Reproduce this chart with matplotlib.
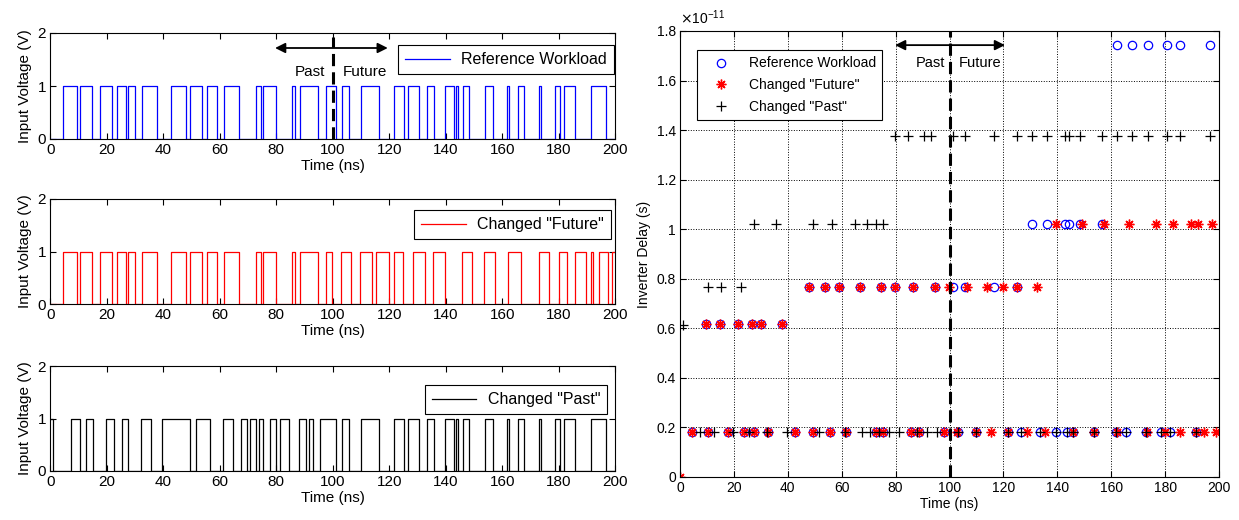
import numpy as np
import matplotlib.pyplot as plt
from matplotlib.ticker import FuncFormatter

plt.rcParams['font.family'] = ['Liberation Sans', 'DejaVu Sans']
plt.rcParams['font.size'] = 11

# Tempos das transições (ns). Antes de 100 ns "Future" = referência,
# depois de 100 ns "Past" = referência.
ref_antes = [4.4, 9.6, 10.4, 14.8, 17.8, 21.7, 23.6, 26.8, 27.6, 29.9, 32.6, 37.8,
             42.8, 48.0, 49.5, 53.8, 55.6, 58.9, 61.6, 66.7, 72.7, 74.5, 75.2, 79.8,
             85.6, 86.6, 88.5, 94.7, 97.8]
ref_depois = [101.3, 103.3, 105.7, 110.0, 116.4, 121.7, 125.2, 126.6, 130.6, 133.4,
              136.0, 139.6, 142.8, 143.6, 144.4, 146.0, 148.3, 153.8, 156.7, 161.6,
              162.3, 165.6, 167.7, 172.9, 173.6, 178.6, 180.6, 181.8, 185.7, 191.3,
              196.8]
fut_depois = [99.7, 102.9, 106.5, 109.7, 113.8, 115.5, 119.8, 121.7, 124.9, 128.6,
              132.5, 135.6, 139.6, 145.7, 149.2, 153.7, 157.4, 162.0, 166.6, 173.2,
              176.7, 180.0, 182.8, 185.6, 189.6, 191.4, 192.3, 194.3, 197.5, 199.0]
past_antes = [1.0, 7.5, 10.4, 12.7, 15.2, 19.8, 22.5, 25.5, 27.4, 32.3, 35.6, 39.6,
              49.5, 51.7, 56.5, 61.2, 64.8, 67.4, 69.5, 70.6, 72.7, 73.8, 75.3, 77.7,
              79.8, 81.2, 84.5, 87.9, 90.6, 91.6, 93.2, 95.5]

# Atraso do inversor em cada transição (x 1e-11 s)
ref_antes_d = [0.183, 0.617, 0.183, 0.617, 0.183, 0.617, 0.183, 0.617, 0.183, 0.617,
               0.183, 0.617, 0.183, 0.765, 0.183, 0.765, 0.183, 0.765, 0.183, 0.765,
               0.183, 0.765, 0.183, 0.765, 0.183, 0.765, 0.183, 0.765, 0.183]
ref_depois_d = [0.765, 0.183, 0.765, 0.183, 0.765, 0.183, 0.765, 0.183, 1.022, 0.183,
                1.022, 0.183, 1.022, 0.183, 1.022, 0.183, 1.022, 0.183, 1.022, 0.183,
                1.742, 0.183, 1.742, 0.183, 1.742, 0.183, 1.742, 0.183, 1.742, 0.183,
                1.742]
fut_depois_d = [0.765, 0.183, 0.765, 0.183, 0.765, 0.183, 0.765, 0.183, 0.765, 0.183,
                0.765, 0.183, 1.022, 0.183, 1.022, 0.183, 1.022, 0.183, 1.022, 0.183,
                1.022, 0.183, 1.022, 0.183, 1.022, 0.183, 1.022, 0.183, 1.022, 0.183]
past_antes_d = [0.612, 0.183, 0.765, 0.183, 0.765, 0.183, 0.765, 0.183, 1.022, 0.183,
                1.022, 0.183, 1.022, 0.183, 1.022, 0.183, 1.022, 0.183, 1.022, 0.183,
                1.022, 0.183, 1.022, 0.183, 1.378, 0.183, 1.378, 0.183, 1.378, 0.183,
                1.378, 0.183]
past_depois_d = [1.378, 0.183, 1.378, 0.183, 1.378, 0.183, 1.378, 0.183, 1.378, 0.183,
                 1.378, 0.183, 1.378, 0.183, 1.378, 0.183, 1.378, 0.183, 1.378, 0.183,
                 1.378, 0.183, 1.378, 0.183, 1.378, 0.183, 1.378, 0.183, 1.378, 0.183,
                 1.378]

ref_t = ref_antes + ref_depois
ref_d = ref_antes_d + ref_depois_d
fut_t = ref_antes + fut_depois
fut_d = ref_antes_d + fut_depois_d
past_t = past_antes + ref_depois
past_d = past_antes_d + past_depois_d

T_FIM = 200.0
ASTERISCO = (8, 2, 0)   # estilo do '*' do MATLAB


def onda(edges, inicio):
    # Monta a forma de onda quadrada a partir dos instantes de transição
    t = [0.0] + list(edges) + [T_FIM]
    v = [(inicio + i) % 2 for i in range(len(edges) + 1)]
    v.append(v[-1])
    return t, v


def estilo_matlab(ax, tam):
    ax.tick_params(direction='in', top=True, right=True, length=4, width=0.8,
                   labelsize=tam, pad=3)
    for s in ax.spines.values():
        s.set_linewidth(0.8)


fig = plt.figure(figsize=(12.39, 5.2), dpi=100)

W, H = 1239.0, 520.0
pos_esq = [(33, 139), (199, 304), (366, 471)]
series = [
    (ref_t, 0, 'blue', 'Reference Workload', (0.998, 0.887)),
    (fut_t, 0, 'red', 'Changed "Future"', (0.993, 0.895)),
    (past_t, 1, 'black', 'Changed "Past"', (0.986, 0.819)),
]

for (topo, base), (edges, ini, cor, nome, anc) in zip(pos_esq, series):
    ax = fig.add_axes([50.2 / W, 1 - base / H, 565 / W, (base - topo) / H])
    t, v = onda(edges, ini)
    ax.step(t, v, where='post', color=cor, linewidth=0.9, label=nome)
    ax.set_xlim(0, 200)
    ax.set_ylim(0, 2)
    ax.set_xticks(np.arange(0, 201, 20))
    ax.set_yticks([0, 1, 2])
    ax.set_xlabel('Time (ns)', labelpad=1, fontsize=11)
    ax.set_ylabel('Input Voltage (V)', labelpad=4, fontsize=11)
    estilo_matlab(ax, 11)
    leg = ax.legend(loc='upper right', bbox_to_anchor=anc, fancybox=False,
                    edgecolor='black', framealpha=1, handlelength=2.8,
                    borderaxespad=0, fontsize=11.5, borderpad=0.45,
                    handletextpad=0.7)
    leg.get_frame().set_linewidth(0.8)
    if cor == 'blue':
        ax.plot([100, 100], [0, 1.92], color='black', linewidth=2.2,
                linestyle=(0, (4, 2)))
        ax.annotate('', xy=(79.6, 1.717), xytext=(119.5, 1.717),
                    arrowprops=dict(arrowstyle='<|-|>', color='black', lw=1.3,
                                    mutation_scale=15, shrinkA=0, shrinkB=0))
        ax.text(92, 1.26, 'Past', ha='center', va='center', fontsize=11)
        ax.text(111.4, 1.26, 'Future', ha='center', va='center', fontsize=11)

# Gráfico do atraso
ax = fig.add_axes([680 / W, 1 - 477 / H, 539 / W, 446 / H])
ax.plot(ref_t, ref_d, 'o', color='blue', markersize=6, markerfacecolor='none',
        markeredgewidth=0.9, label='Reference Workload')
ax.plot(fut_t, fut_d, marker=ASTERISCO, linestyle='none', color='red',
        markersize=7, markeredgewidth=1.0, label='Changed "Future"')
ax.plot(past_t, past_d, '+', color='black', markersize=7, markeredgewidth=0.9,
        label='Changed "Past"')
ax.plot([0], [0], marker=ASTERISCO, linestyle='none', color='red', markersize=7,
        markeredgewidth=1.0, clip_on=True)
ax.set_xlim(0, 200)
ax.set_ylim(0, 1.8)
ax.set_xticks(np.arange(0, 201, 20))
ax.set_yticks(np.arange(0, 1.81, 0.2))
ax.yaxis.set_major_formatter(FuncFormatter(lambda y, p: f'{y:g}'))
ax.grid(True, linestyle=':', color='black', linewidth=0.7)
ax.set_axisbelow(True)
ax.set_xlabel('Time (ns)', labelpad=1, fontsize=10)
ax.set_ylabel('Inverter Delay (s)', labelpad=4, fontsize=10)
estilo_matlab(ax, 10)
ax.text(0.0, 1.008, r'$\times\mathregular{10^{-11}}$', transform=ax.transAxes,
        ha='left', va='bottom', fontsize=10)
ax.axvline(100, color='black', linewidth=2.2, linestyle=(0, (4, 2)))
ax.annotate('', xy=(79.8, 1.743), xytext=(120.6, 1.743),
            arrowprops=dict(arrowstyle='<|-|>', color='black', lw=1.3,
                            mutation_scale=15, shrinkA=0, shrinkB=0))
ax.text(92.8, 1.67, 'Past', ha='center', va='center', fontsize=10.5)
ax.text(111.3, 1.67, 'Future', ha='center', va='center', fontsize=10.5)
leg = ax.legend(loc='upper left', bbox_to_anchor=(0.0315, 0.957), fancybox=False,
                edgecolor='black', framealpha=1, borderaxespad=0, fontsize=10,
                handlelength=2.6, borderpad=0.45, labelspacing=0.55,
                handletextpad=0.7)
leg.get_frame().set_linewidth(0.8)

fig.savefig('out.png', dpi=100)
